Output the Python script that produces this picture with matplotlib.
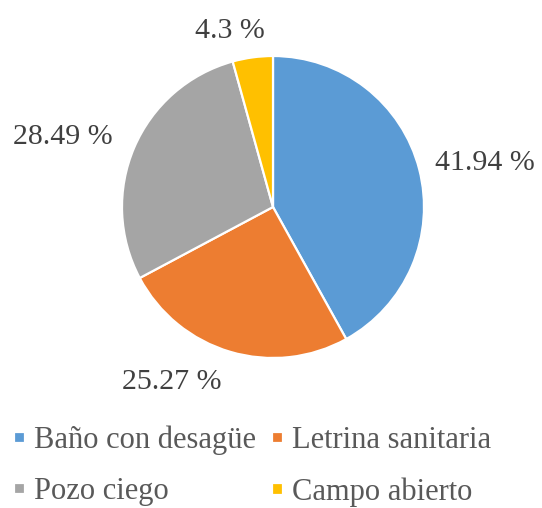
import matplotlib.pyplot as plt
import numpy as np

categories = ["Baño con desagüe", "Letrina sanitaria", "Pozo ciego", "Campo abierto"]
shares = [41.94, 25.27, 28.49, 4.3]
value_labels = ["41.94 %", "25.27 %", "28.49 %", "4.3 %"]
colors = ["#5B9BD5", "#ED7D31", "#A5A5A5", "#FFC000"]

# label placement (distance in radii, angle in degrees) - excel "best fit" look
label_pos = [(1.43, 11.7), (1.34, -120.0), (1.47, 161.6), (1.20, 103.7)]

plt.rcParams["font.family"] = ["Liberation Serif", "DejaVu Serif"]

W, H = 542, 508
fig = plt.figure(figsize=(W / 100, H / 100), dpi=100)
ax = fig.add_axes([122 / W, 150 / H, 302 / W, 302 / H])

wedges, _ = ax.pie(shares, colors=colors, startangle=90, counterclock=False,
                   wedgeprops=dict(edgecolor="white", linewidth=1.6))
ax.set_xlim(-1, 1)
ax.set_ylim(-1, 1)
ax.set_aspect("equal")
ax.axis("off")

for txt, (r, a) in zip(value_labels, label_pos):
    t = np.deg2rad(a)
    ax.text(r * np.cos(t), r * np.sin(t), txt, ha="center", va="center",
            fontsize=21.5, color="#404040", clip_on=False)

# legend is filled row by row in the reference
order = [0, 2, 1, 3]
fig.legend([wedges[i] for i in order], [categories[i] for i in order],
           ncol=2, frameon=False, loc="lower left",
           bbox_to_anchor=(-0.008, -0.034), fontsize=22, labelcolor="#595959",
           handlelength=0.36, handleheight=0.2, handletextpad=0.28,
           columnspacing=0.55, labelspacing=0.72, borderaxespad=0.2)

fig.savefig("out.png", dpi=100)
